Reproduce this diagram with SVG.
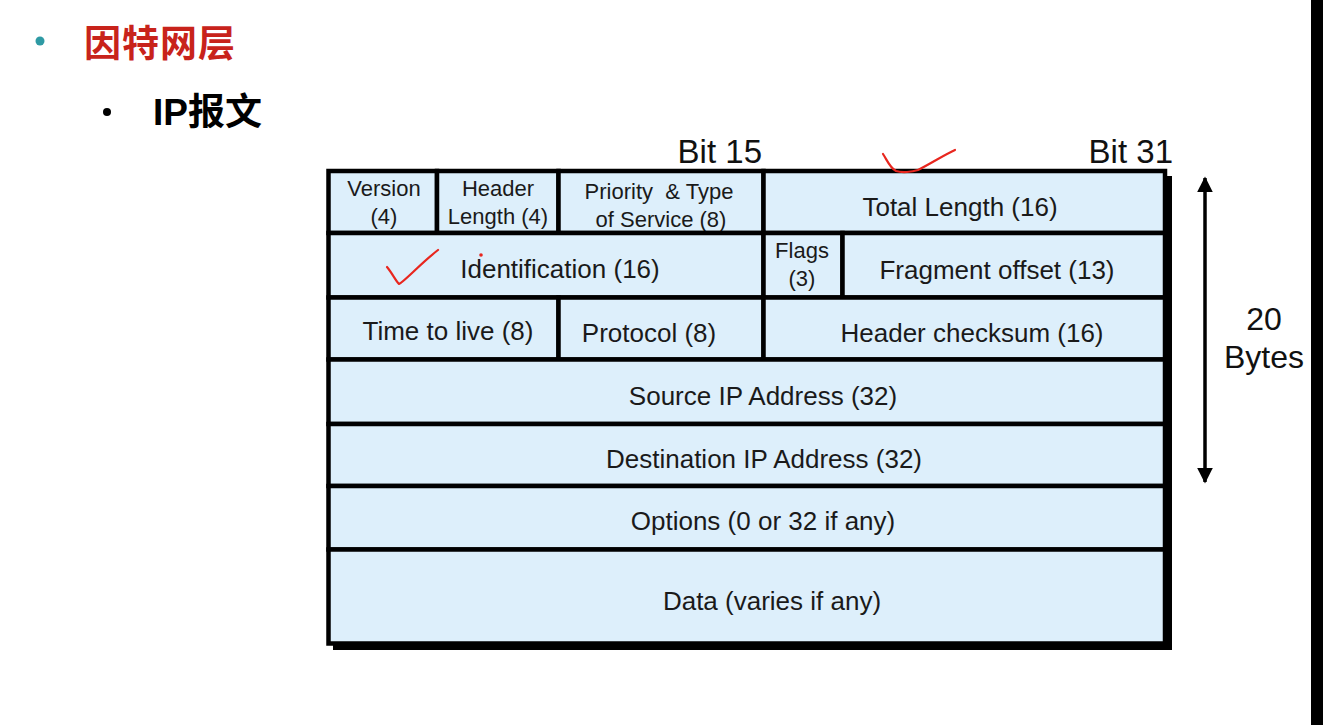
<svg xmlns="http://www.w3.org/2000/svg" width="1323" height="725" viewBox="0 0 1323 725">
<style>
.cell{fill:#DDEFFB;stroke:#000;stroke-width:4.5}
.t{font-family:"Liberation Sans",Arial,sans-serif;font-size:26px;fill:#1a1a1a;text-anchor:middle}
.s{font-family:"Liberation Sans",Arial,sans-serif;font-size:22px;fill:#1a1a1a;text-anchor:middle}
.bit{font-family:"Liberation Sans",Arial,sans-serif;font-size:33px;fill:#111;text-anchor:end}
.lbl{font-family:"Liberation Sans",Arial,sans-serif;font-size:32px;fill:#111;text-anchor:middle}
.ink{fill:none;stroke:#E8261E;stroke-width:2.2;stroke-linecap:round;stroke-linejoin:round}
</style>
<defs>
<marker id="ah" viewBox="0 0 10 10" refX="9" refY="5" markerWidth="4.5" markerHeight="4.5" orient="auto-start-reverse" markerUnits="strokeWidth">
<path d="M0,0 L10,5 L0,10 z" fill="#000"/>
</marker>
</defs>
<rect width="1323" height="725" fill="#fff"/>
<rect x="1311" y="0" width="12" height="725" fill="#000"/>
<g id="title">
<circle cx="40" cy="41" r="4.5" fill="#2E9AA4"/>
<text x="84" y="57" font-family="'Liberation Sans','Noto Sans CJK SC',sans-serif" font-size="37" font-weight="bold" fill="#C8231B" letter-spacing="1">因特网层</text>
</g>
<g id="subtitle">
<circle cx="107" cy="112" r="4" fill="#000"/>
<text x="153" y="125" font-family="'Liberation Sans','Noto Sans CJK SC',sans-serif" font-size="37" font-weight="bold" fill="#000">IP报文</text>
</g>
<g id="bit-labels">
<text class="bit" x="762" y="163">Bit 15</text>
<text class="bit" x="1173" y="163">Bit 31</text>
</g>
<rect id="table-shadow" x="333" y="176" width="839" height="474" fill="#000"/>
<g id="version"><rect class="cell" x="328.5" y="171" width="108.5" height="62"/><text class="s" x="384" y="196">Version</text><text class="s" x="384" y="224">(4)</text></g>
<g id="header-length"><rect class="cell" x="437" y="171" width="121.5" height="62"/><text class="s" x="498" y="196">Header</text><text class="s" x="498" y="224">Length (4)</text></g>
<g id="tos"><rect class="cell" x="558.5" y="171" width="205" height="62"/><text class="s" x="659" y="199" xml:space="preserve">Priority  &amp; Type</text><text class="s" x="661" y="227">of Service (8)</text></g>
<g id="total-length"><rect class="cell" x="763.5" y="171" width="401.5" height="62"/><text class="t" x="960" y="216">Total Length (16)</text></g>
<g id="identification"><rect class="cell" x="328.5" y="233" width="435" height="64.5"/><text class="t" x="560" y="278">Identification (16)</text></g>
<g id="flags"><rect class="cell" x="763.5" y="233" width="79" height="64.5"/><text class="s" x="802" y="258">Flags</text><text class="s" x="802" y="286">(3)</text></g>
<g id="fragment-offset"><rect class="cell" x="842.5" y="233" width="322.5" height="64.5"/><text class="t" x="997" y="279">Fragment offset (13)</text></g>
<g id="ttl"><rect class="cell" x="328.5" y="297.5" width="230" height="62"/><text class="t" x="448" y="340">Time to live (8)</text></g>
<g id="protocol"><rect class="cell" x="558.5" y="297.5" width="205" height="62"/><text class="t" x="649" y="342">Protocol (8)</text></g>
<g id="checksum"><rect class="cell" x="763.5" y="297.5" width="401.5" height="62"/><text class="t" x="972" y="342">Header checksum (16)</text></g>
<g id="source"><rect class="cell" x="328.5" y="359.5" width="836.5" height="64.5"/><text class="t" x="763" y="405">Source IP Address (32)</text></g>
<g id="destination"><rect class="cell" x="328.5" y="424" width="836.5" height="62"/><text class="t" x="764" y="468">Destination IP Address (32)</text></g>
<g id="options"><rect class="cell" x="328.5" y="486" width="836.5" height="63.5"/><text class="t" x="763" y="530">Options (0 or 32 if any)</text></g>
<g id="data"><rect class="cell" x="328.5" y="549.5" width="836.5" height="94"/><text class="t" x="772" y="610">Data (varies if any)</text></g>
<g id="connectors">
<line x1="1205" y1="178" x2="1205" y2="482" stroke="#000" stroke-width="3.5" marker-start="url(#ah)" marker-end="url(#ah)"/>
</g>
<g id="size-label">
<text class="lbl" x="1264" y="330">20</text>
<text class="lbl" x="1264" y="368">Bytes</text>
</g>
<g id="annotations">
<path class="ink" d="M387,267 C392,273 396,281 399,284 C404,282 420,264 438,250"/>
<circle cx="481" cy="255" r="1.8" fill="#E8261E"/>
<path class="ink" d="M883,154 C887,160 890,168 896,171 C902,173 912,172 918,170 C930,164 944,155 955,150"/>
</g>
</svg>
